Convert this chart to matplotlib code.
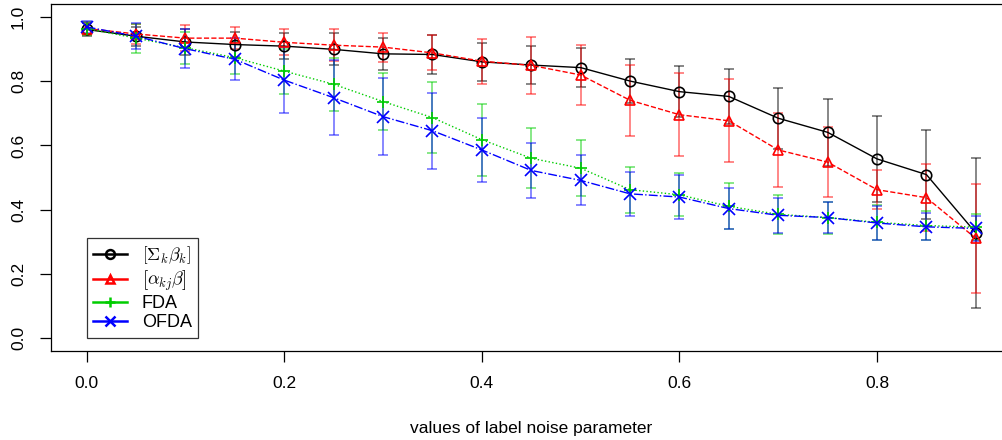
import numpy as np
import matplotlib
matplotlib.use('Agg')
import matplotlib.pyplot as plt
from matplotlib.lines import Line2D

plt.rcParams['font.family'] = ['Liberation Sans', 'DejaVu Sans']
plt.rcParams['mathtext.fontset'] = 'cm'

noise = [0.0, 0.05, 0.1, 0.15, 0.2, 0.25, 0.3, 0.35, 0.4, 0.45,
         0.5, 0.55, 0.6, 0.65, 0.7, 0.75, 0.8, 0.85, 0.9]

sigma_mean = [0.962, 0.941, 0.923, 0.915, 0.910, 0.900, 0.886, 0.884, 0.861, 0.851,
              0.843, 0.801, 0.768, 0.753, 0.685, 0.641, 0.558, 0.509, 0.327]
sigma_sd = [0.02, 0.03, 0.04, 0.04, 0.04, 0.05, 0.05, 0.06, 0.06, 0.06,
            0.06, 0.07, 0.08, 0.085, 0.095, 0.105, 0.135, 0.14, 0.235]

alpha_mean = [0.965, 0.948, 0.935, 0.935, 0.922, 0.913, 0.907, 0.889, 0.863, 0.850,
              0.820, 0.741, 0.696, 0.677, 0.586, 0.548, 0.462, 0.437, 0.310]
alpha_sd = [0.02, 0.03, 0.04, 0.035, 0.04, 0.05, 0.045, 0.055, 0.07, 0.088,
            0.095, 0.11, 0.13, 0.13, 0.115, 0.11, 0.06, 0.105, 0.17]

fda_mean = [0.965, 0.935, 0.905, 0.874, 0.832, 0.791, 0.737, 0.687, 0.618, 0.560,
            0.529, 0.462, 0.446, 0.410, 0.385, 0.375, 0.360, 0.350, 0.345]
fda_sd = [0.02, 0.045, 0.05, 0.05, 0.07, 0.083, 0.09, 0.112, 0.112, 0.093,
          0.087, 0.072, 0.067, 0.072, 0.06, 0.05, 0.055, 0.045, 0.04]

ofda_mean = [0.970, 0.941, 0.902, 0.869, 0.804, 0.749, 0.690, 0.646, 0.586, 0.522,
             0.491, 0.449, 0.439, 0.403, 0.382, 0.375, 0.358, 0.346, 0.341]
ofda_sd = [0.02, 0.04, 0.06, 0.065, 0.103, 0.117, 0.12, 0.119, 0.10, 0.085,
           0.078, 0.068, 0.069, 0.065, 0.055, 0.047, 0.052, 0.042, 0.04]

series = [
    (sigma_mean, sigma_sd, 'black', '-', 'o', r'$\left[\Sigma_k\beta_k\right]$'),
    (alpha_mean, alpha_sd, '#ff0000', '--', '^', r'$\left[\alpha_{kj}\beta\right]$'),
    (fda_mean, fda_sd, '#00cd00', ':', '+', 'FDA'),
    (ofda_mean, ofda_sd, '#0000ff', '-.', 'x', 'OFDA'),
]

fig = plt.figure(figsize=(10.03, 4.40), dpi=100)
ax = fig.add_axes([51.1 / 1003, 89.5 / 440, 960.3 / 1003, 346 / 440])

for m, sd, col, ls, mk, lab in series:
    ax.errorbar(noise, m, yerr=sd, fmt='none', ecolor=col, elinewidth=1.2,
                capsize=3.3, capthick=1.2, alpha=0.55)

handles = []
for m, sd, col, ls, mk, lab in series:
    ms = 9 if mk in ('+', 'x') else 7.5
    ax.plot(noise, m, color=col, linestyle=ls, linewidth=1.0, marker=mk,
            markersize=ms, markerfacecolor='none', markeredgecolor=col,
            markeredgewidth=1.2)
    # legend keys in the reference use solid lines
    handles.append(Line2D([], [], color=col, linestyle='-', linewidth=1.8,
                          marker=mk, markersize=ms * 0.85, markerfacecolor='none',
                          markeredgewidth=1.8, label=lab))

ax.set_xlim(-0.036, 0.936)
ax.set_ylim(-0.04, 1.04)
ax.set_xticks([0.0, 0.2, 0.4, 0.6, 0.8])
ax.set_xticklabels(['0.0', '0.2', '0.4', '0.6', '0.8'])
ax.set_yticks([0.0, 0.2, 0.4, 0.6, 0.8, 1.0])
ax.set_yticklabels(['0.0', '0.2', '0.4', '0.6', '0.8', '1.0'], rotation=90, va='center')
ax.tick_params(axis='both', direction='out', length=8, width=0.9, labelsize=12.5, pad=10)
for sp in ax.spines.values():
    sp.set_linewidth(0.9)
ax.set_xlabel('values of label noise parameter', fontsize=12.5, labelpad=22)

leg = ax.legend(handles=handles, loc='lower left', bbox_to_anchor=(0.0, 0.0),
                bbox_transform=ax.transData, borderaxespad=0, fontsize=13,
                frameon=True, fancybox=False, edgecolor='black',
                handlelength=1.9, handletextpad=0.8, labelspacing=0.12,
                borderpad=0.35)
leg.get_frame().set_linewidth(0.9)

fig.savefig('out.png', dpi=100)
